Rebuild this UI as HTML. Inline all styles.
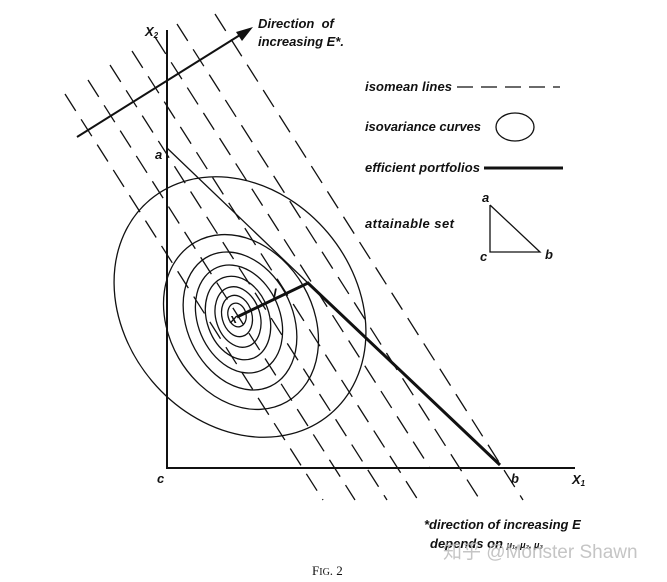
<!DOCTYPE html>
<html><head><meta charset="utf-8"><style>
html,body{margin:0;padding:0;background:#fff;}
svg{display:block;}
.t{font-family:"Liberation Sans",sans-serif;font-weight:bold;font-style:italic;font-size:13px;fill:#111;}
</style></head><body>
<svg width="667" height="582" viewBox="0 0 667 582" xmlns="http://www.w3.org/2000/svg">
<g stroke="#111" stroke-width="1.3" stroke-dasharray="20 10" fill="none">
<line x1="65" y1="94" x2="323" y2="500"/>
<line x1="88" y1="80" x2="355" y2="500"/>
<line x1="110" y1="65" x2="387" y2="500"/>
<line x1="132" y1="51" x2="418" y2="500"/>
<line x1="155" y1="37" x2="430" y2="468"/>
<line x1="177" y1="24" x2="480" y2="500"/>
<line x1="215" y1="14" x2="523" y2="500"/>
</g>
<g stroke="#111" stroke-width="1.3" fill="none">
<g transform="translate(240,307) rotate(50)"><ellipse rx="140" ry="115"/></g>
<g transform="translate(241,322) rotate(60)"><ellipse rx="92" ry="72"/></g>
<g transform="translate(240,321) rotate(65)"><ellipse rx="72" ry="53"/></g>
<g transform="translate(239,319) rotate(67)"><ellipse rx="56" ry="41"/></g>
<g transform="translate(238,318) rotate(70)"><ellipse rx="43" ry="31"/></g>
<g transform="translate(238,317) rotate(72)"><ellipse rx="31" ry="22"/></g>
<g transform="translate(237,316) rotate(75)"><ellipse rx="21" ry="15"/></g>
<g transform="translate(237,315) rotate(75)"><ellipse rx="12" ry="9"/></g>
</g>
<g stroke="#111" fill="none">
<line x1="167" y1="30" x2="167" y2="469" stroke-width="2"/>
<line x1="166" y1="468" x2="575" y2="468" stroke-width="2"/>
<line x1="167" y1="148" x2="308" y2="283" stroke-width="1.3"/>
<polyline points="237,317 308,283 500,465" stroke-width="3"/>
<line x1="77" y1="137" x2="240" y2="35" stroke-width="2"/>
<line x1="457" y1="87" x2="560" y2="87" stroke-width="1.3" stroke-dasharray="16 8"/>
<ellipse cx="515" cy="127" rx="19" ry="14" stroke-width="1.3"/>
<line x1="484" y1="168" x2="563" y2="168" stroke-width="3"/>
<polyline points="490,205 490,252 540,252 490,205" stroke-width="1.3"/>
</g>
<polygon points="253,27 236,32 242,41" fill="#111"/>
<text class="t" x="258" y="28">Direction&#160; of</text>
<text class="t" x="258" y="46">increasing E*.</text>
<text class="t" x="145" y="36" font-size="12">X<tspan font-size="8" dy="2">2</tspan></text>
<text class="t" x="155" y="159">a</text>
<text class="t" x="157" y="483">c</text>
<text class="t" x="511" y="483">b</text>
<text class="t" x="572" y="484">X<tspan font-size="8" dy="2">1</tspan></text>
<text class="t" x="273" y="298">l</text>
<text class="t" x="230" y="323">x</text>
<text class="t" x="365" y="91" textLength="87">isomean lines</text>
<text class="t" x="365" y="131" textLength="116">isovariance curves</text>
<text class="t" x="365" y="172" textLength="115">efficient portfolios</text>
<text class="t" x="365" y="228" textLength="89">attainable set</text>
<text class="t" x="482" y="202">a</text>
<text class="t" x="480" y="261">c</text>
<text class="t" x="545" y="259">b</text>
<text class="t" x="424" y="529">*direction of increasing E</text>
<text class="t" x="430" y="548">depends on <tspan font-size="9">μ₁, μ₂, μ₃</tspan></text>
<text x="443" y="558" font-family="Liberation Sans,'Noto Sans CJK SC',sans-serif" font-size="19" fill="#bbb" opacity="0.85">知乎 @Monster Shawn</text>
<text x="312" y="575" font-family="Liberation Serif,serif" font-size="13" fill="#111">F<tspan font-size="10">IG</tspan>. 2</text>
</svg>
</body></html>
